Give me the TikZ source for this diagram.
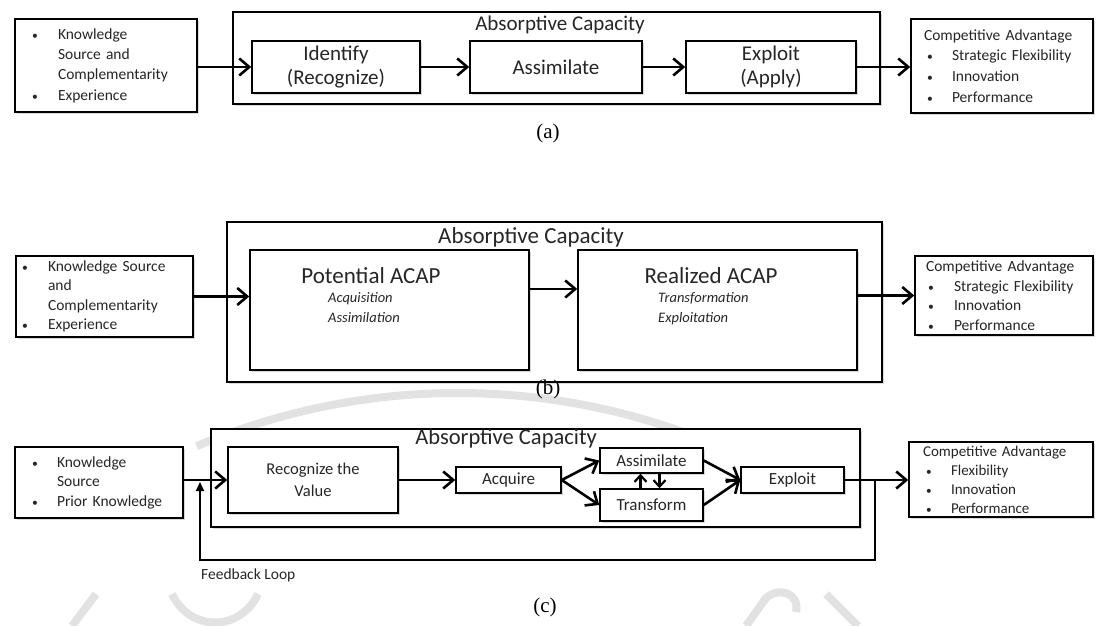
\documentclass[tikz,border=0pt]{standalone}
\usepackage{fontspec}
\setmainfont{Carlito}
\newfontfamily\capfont{Liberation Serif}
\usetikzlibrary{arrows.meta,shadows}
\definecolor{txt}{HTML}{262626}
\definecolor{wmark}{HTML}{E2E2E2}
% bullet of a list line: #1 column width, #2 indent
\newcommand{\lbul}[2]{\makebox[#1][l]{\hspace*{#2}\scalebox{0.75}{\textbullet}}}
\begin{document}
\begin{tikzpicture}[x=1pt,y=-1pt,
  box/.style={draw=black, line width=1.5pt, fill=white, inner sep=0pt, text=txt,
    drop shadow={opacity=0.3, shadow xshift=2pt, shadow yshift=-2.2pt}},
  listbox/.style={box, align=left, inner ysep=0pt},
  flow/.style={line width=2.6pt, -{Straight Barb[length=10pt,width=17pt]}},
  smallflow/.style={line width=2.2pt, -{Straight Barb[length=6.5pt,width=12pt]}},
  title/.style={text=txt, inner sep=0pt},
  sublabel/.style={font=\capfont\fontsize{21}{24}\selectfont, inner sep=0pt},
  emblem/.style={draw=wmark, line width=8pt}]
\useasboundingbox (0,0) rectangle (1096,626);

% faint background emblem
\draw[emblem] (458,1062) ++(-113:669) arc[start angle=-113, end angle=-62, radius=669];
\draw[emblem] (72,626) -- (96,594);
\draw[emblem] (172,594) .. controls (190,632) and (240,632) .. (258,594);
\draw[emblem] (746,626) -- (766,598) .. controls (780,586) and (800,594) .. (796,612);
\draw[emblem] (826,594) -- (858,626);

% ---------------- (a) ----------------
\node[box, minimum width=647pt, minimum height=92pt] (aACAP) at (556.5,58) {};
\node[title, font=\fontsize{21}{24}\selectfont] (aTitle) at (560,25) {Absorptive Capacity};
\node[listbox, text width=148pt, inner xsep=17pt, minimum height=93pt,
  font=\fontsize{15.5}{20.3}\selectfont] (aL) at (106,65.5)
  {\lbul{26pt}{0pt}Knowledge\\\hspace*{26pt}Source and\\\hspace*{26pt}Complementarity\\\lbul{26pt}{0pt}Experience};
\node[box, minimum width=168pt, minimum height=52pt, align=center,
  font=\fontsize{21}{24}\selectfont] (aId) at (336,67) {Identify\\(Recognize)};
\node[box, minimum width=172pt, minimum height=52pt,
  font=\fontsize{21}{24}\selectfont] (aAs) at (556,67) {Assimilate};
\node[box, minimum width=170pt, minimum height=52pt, align=center,
  font=\fontsize{21}{24}\selectfont] (aEx) at (771,67) {Exploit\\(Apply)};
\node[listbox, text width=156pt, inner xsep=13pt, minimum height=94pt,
  font=\fontsize{15.5}{20.7}\selectfont] (aR) at (1002,66)
  {\mbox{Competitive Advantage}\\\lbul{28pt}{3pt}Strategic Flexibility\\\lbul{28pt}{3pt}Innovation\\\lbul{28pt}{3pt}Performance};
\draw[flow] (aL.east |- aId.west) -- (aId.west);
\draw[flow] (aId.east) -- (aAs.west);
\draw[flow] (aAs.east) -- (aEx.west);
\draw[flow] (aEx.east) -- (aEx.east -| aR.west);
\node[sublabel] (capA) at (548,133) {(a)};

% ---------------- (b) ----------------
\node[box, minimum width=655pt, minimum height=160pt] (bACAP) at (554.5,302) {};
\node[title, font=\fontsize{23}{26}\selectfont] (bTitle) at (531,237) {Absorptive Capacity};
\node[listbox, text width=165pt, inner xsep=6pt, minimum height=81pt,
  font=\fontsize{15.5}{19.3}\selectfont] (bL) at (104.5,296.5)
  {\lbul{26pt}{0pt}Knowledge Source\\\hspace*{26pt}and\\\hspace*{26pt}Complementarity\\\lbul{26pt}{0pt}Experience};
\node[box, minimum width=279pt, minimum height=120pt] (bPot) at (389.5,310) {};
\node[box, minimum width=279pt, minimum height=120pt] (bRe) at (717.5,310) {};
\node[title, font=\fontsize{23}{26}\selectfont] (bPotHead) at (371,276) {Potential ACAP};
\node[title, font=\fontsize{14.5}{20}\selectfont\itshape, align=left, anchor=north west]
  (bPotList) at (328,292) {Acquisition\\Assimilation};
\node[title, font=\fontsize{23}{26}\selectfont] (bReHead) at (711,276) {Realized ACAP};
\node[title, font=\fontsize{14.5}{20}\selectfont\itshape, align=left, anchor=north west]
  (bReList) at (658,292) {Transformation\\Exploitation};
\node[listbox, text width=156pt, inner xsep=11pt, minimum height=79pt,
  font=\fontsize{15.5}{19.5}\selectfont] (bR) at (1004,295.5)
  {\mbox{Competitive Advantage}\\\lbul{28pt}{2pt}Strategic Flexibility\\\lbul{28pt}{2pt}Innovation\\\lbul{28pt}{2pt}Performance};
\draw[flow] (bL.east) -- (bL.east -| bPot.west);
\draw[flow] ([yshift=21pt]bPot.east) -- ([yshift=21pt]bRe.west);
\draw[flow] (bR.west -| bRe.east) -- (bR.west);
\node[sublabel] (capB) at (548,389) {(b)};

% ---------------- (c) ----------------
\node[box, minimum width=649pt, minimum height=98pt] (cACAP) at (535.5,478) {};
\node[title, font=\fontsize{22.5}{26}\selectfont] (cTitle) at (506,438) {Absorptive Capacity};
\node[listbox, text width=134pt, inner xsep=17pt, minimum height=71pt,
  font=\fontsize{15.5}{19.5}\selectfont] (cL) at (99,482.5)
  {\lbul{25pt}{0pt}Knowledge\\\hspace*{25pt}Source\\\lbul{25pt}{0pt}Prior Knowledge};
\node[box, minimum width=170pt, minimum height=66pt, align=center,
  font=\fontsize{16.5}{22}\selectfont] (cRec) at (313,480) {Recognize the\\Value};
\node[box, minimum width=105pt, minimum height=26pt,
  font=\fontsize{17}{20}\selectfont] (cAcq) at (508.5,480) {Acquire};
\node[box, minimum width=103pt, minimum height=25pt,
  font=\fontsize{17}{20}\selectfont] (cAsm) at (651.5,460.5) {Assimilate};
\node[box, minimum width=103pt, minimum height=32pt,
  font=\fontsize{17}{20}\selectfont] (cTr) at (651.5,505) {Transform};
\node[box, minimum width=103pt, minimum height=26pt,
  font=\fontsize{17}{20}\selectfont] (cEx) at (792.5,480) {Exploit};
\node[listbox, text width=156pt, inner xsep=14pt, minimum height=75pt,
  font=\fontsize{15}{19}\selectfont] (cR) at (1001,479.5)
  {\mbox{Competitive Advantage}\\\lbul{28pt}{3pt}Flexibility\\\lbul{28pt}{3pt}Innovation\\\lbul{28pt}{3pt}Performance};
\coordinate (fbend) at (200,482);
\coordinate (fb) at (875,480);
\draw[flow] (cL.east |- cRec.west) -- (cRec.west);
\draw[flow] (cRec.east) -- (cAcq.west);
\draw[flow] (cAcq.east) -- (cAsm.west);
\draw[flow] (cAcq.east) -- (cTr.west);
\draw[flow] (cAsm.east) -- (cEx.west);
\draw[flow] (cTr.east) -- (cEx.west);
\draw[smallflow] ([xshift=-11pt]cTr.north) -- ([xshift=-11pt]cAsm.south);
\draw[smallflow] ([xshift=8pt]cAsm.south) -- ([xshift=8pt]cTr.north);
\draw[flow] (cEx.east) -- (cEx.east -| cR.west);
\draw[line width=1.6pt, -{Triangle[length=9pt,width=8pt]}] (fb) -- ++(0,80) -| (fbend);
\node[title, anchor=west, font=\fontsize{15.5}{18}\selectfont] (fbLabel) at (201,575) {Feedback Loop};
\node[sublabel] (capC) at (545,607) {(c)};
\end{tikzpicture}
\end{document}
